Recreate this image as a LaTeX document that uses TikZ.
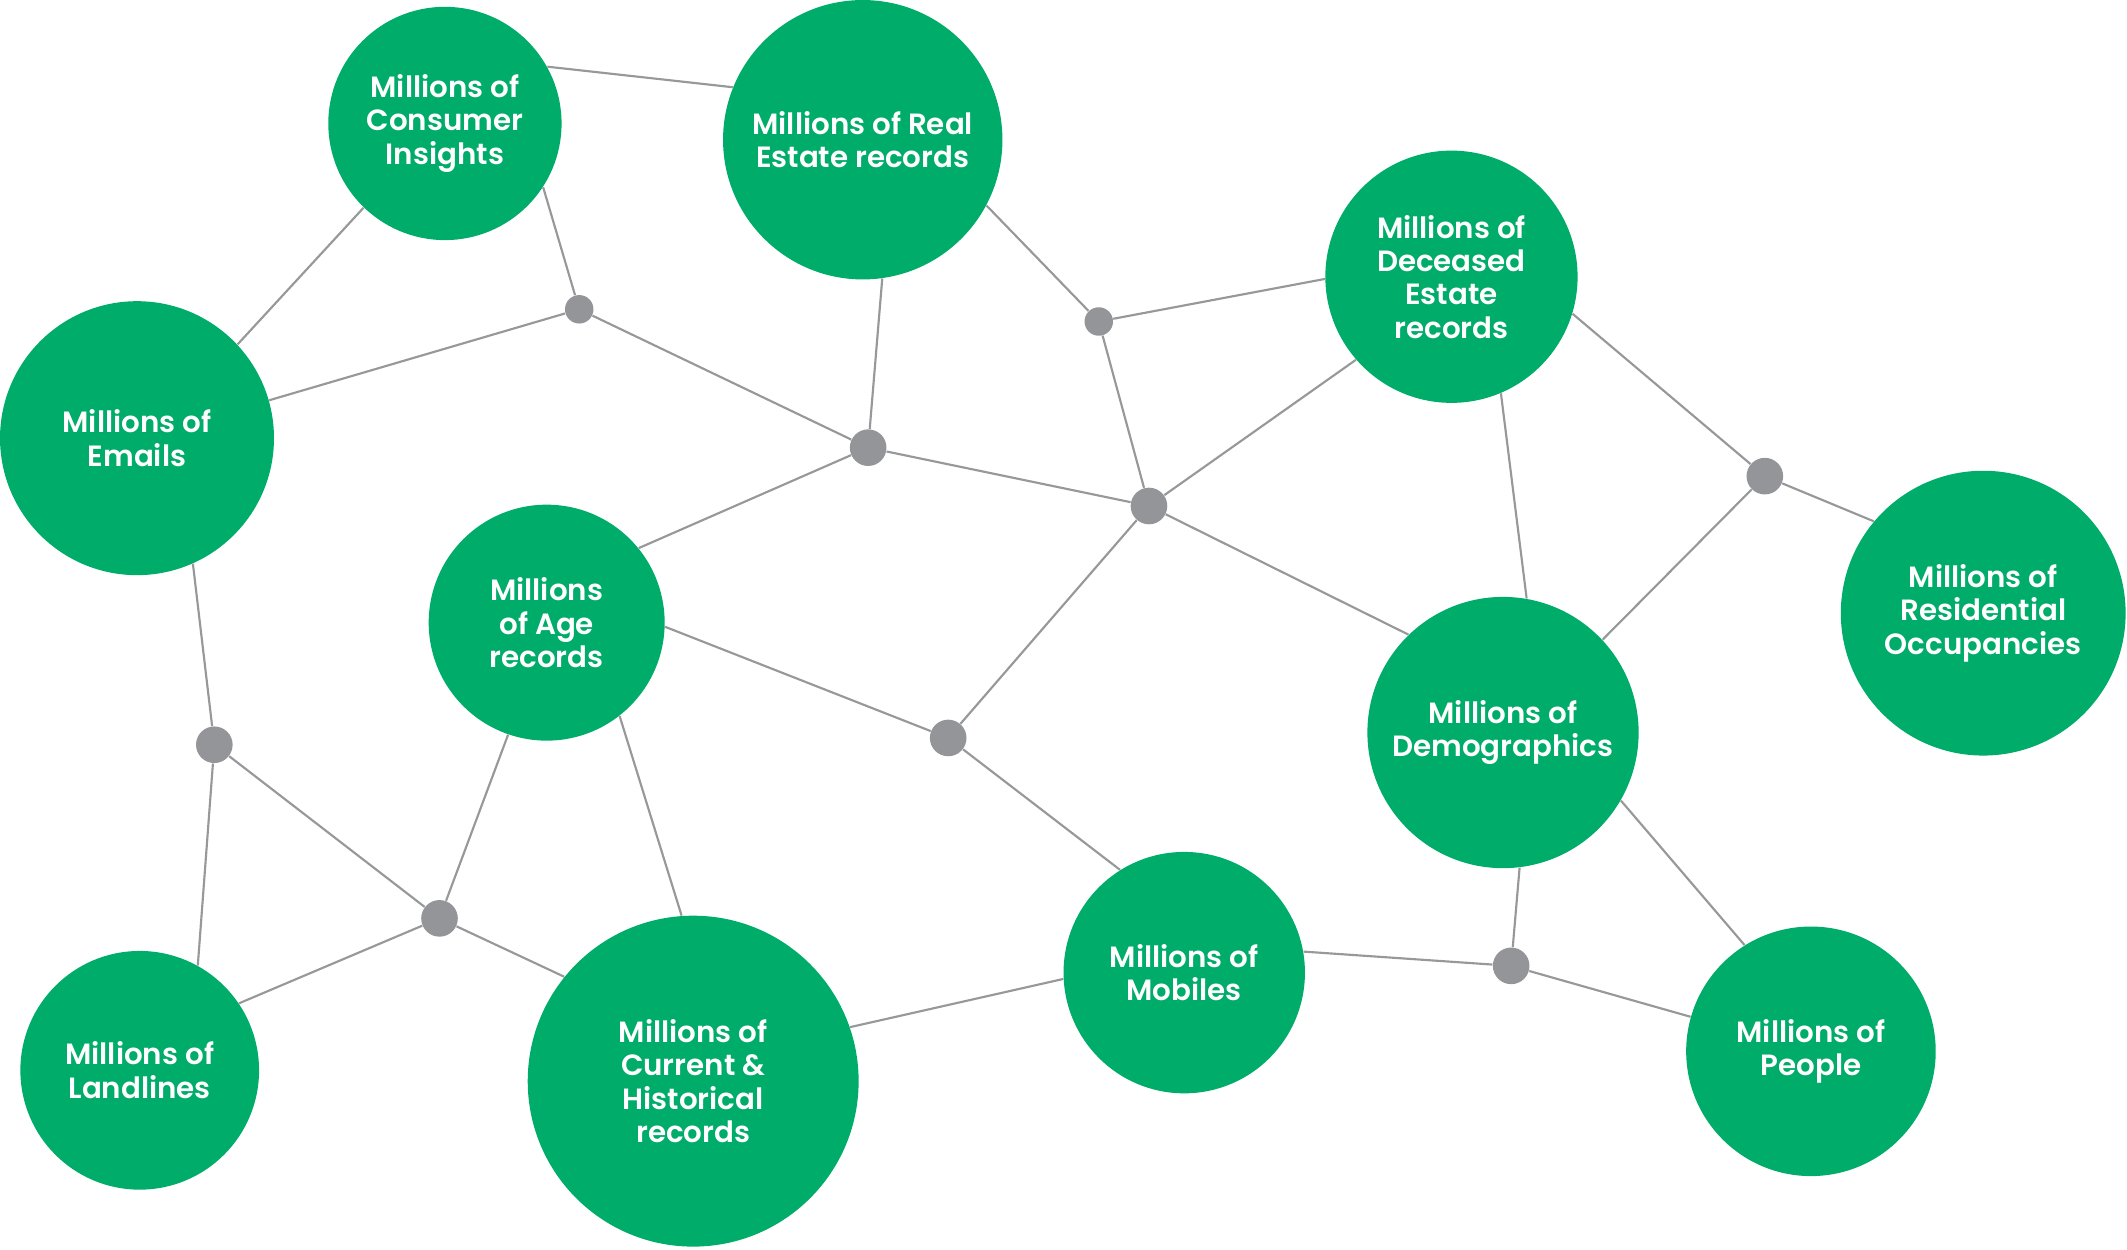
\documentclass[tikz,border=0pt]{standalone}
\usepackage{fontspec}
\setmainfont{Poppins SemiBold}
\definecolor{hubgreen}{HTML}{00AC69}
\definecolor{dotgray}{HTML}{939598}
\definecolor{linkgray}{HTML}{97989A}
\begin{document}
\begin{tikzpicture}[x=0.02cm,y=-0.02cm,
base/.style={
circle,
fill=hubgreen,
inner sep=0pt,
align=center,
text=white,
font={\fontsize{12.3pt}{14pt}\selectfont},
execute at begin node={\rule{0pt}{12.7pt}},
},
bub/.style={
base,
minimum size=#1,
},
dot/.style={
circle,
fill=dotgray,
inner sep=0pt,
minimum size=0.54cm,
},
sdot/.style={
dot,
minimum size=0.42cm,
},
link/.style={
draw=linkgray,
line width=0.9pt,
},
]
\useasboundingbox (0,0) rectangle (1568,921);
% hubs
\node[bub=3.44cm](cons)at(328,91){Millions of\\Consumer\\Insights};
\node[bub=4.12cm](real)at(636,103){Millions of Real\\Estate records};
\node[bub=3.72cm](dec)at(1070,204){Millions of\\Deceased\\Estate\\records};
\node[bub=4.04cm](mail)at(101,323){Millions of\\Emails};
\node[bub=3.48cm](age)at(403,459){Millions\\of Age\\records};
\node[bub=4.0cm](demo)at(1108,540){Millions of\\Demographics};
\node[bub=4.2cm](resi)at(1462,452){Millions of\\Residential\\Occupancies};
\node[bub=3.52cm](land)at(103,789){Millions of\\Landlines};
\node[bub=4.88cm](hist)at(511,797){Millions of\\Current \&\\Historical\\records};
\node[bub=3.56cm](mob)at(873,717){Millions of\\Mobiles};
\node[bub=3.68cm](ppl)at(1335,775){Millions of\\People};
% junctions
\node[sdot](j1)at(427,228){};
\node[dot](j2)at(640,330){};
\node[sdot](j3)at(810,237){};
\node[dot](j4)at(847,373){};
\node[dot](j5)at(1301,351){};
\node[dot](j6)at(158,549){};
\node[dot](j7)at(699,544){};
\node[dot](j8)at(324,677){};
\node[dot](j9)at(1114,712){};
% links
\draw[link](cons.29)--(real.158);
\draw[link](cons.226)--(mail.43);
\draw[link](cons.-33)--(j1);
\draw[link](mail.16)--(j1);
\draw[link](j1)--(j2);
\draw[link](real.-82)--(j2);
\draw[link](real.-28)--(j3);
\draw[link](j3)--(dec.181);
\draw[link](j3)--(j4);
\draw[link](j2)--(j4);
\draw[link](j2)--(age.39);
\draw[link](j4)--(dec.221);
\draw[link](j4)--(demo.134);
\draw[link](j4)--(j7);
\draw[link](dec.-17)--(j5);
\draw[link](dec.-67)--(demo.80);
\draw[link](j5)--(resi.140);
\draw[link](j5)--(demo.43);
\draw[link](age.-2)--(j7);
\draw[link](j7)--(mob.122);
\draw[link](mail.-66)--(j6);
\draw[link](j6)--(land.61);
\draw[link](j6)--(j8);
\draw[link](age.251)--(j8);
\draw[link](age.-52)--(hist.94);
\draw[link](j8)--(land.34);
\draw[link](j8)--(hist.141);
\draw[link](hist.19)--(mob.183);
\draw[link](mob.10)--(j9);
\draw[link](demo.-83)--(j9);
\draw[link](j9)--(ppl.164);
\draw[link](demo.-30)--(ppl.122);
\end{tikzpicture}
\end{document}
